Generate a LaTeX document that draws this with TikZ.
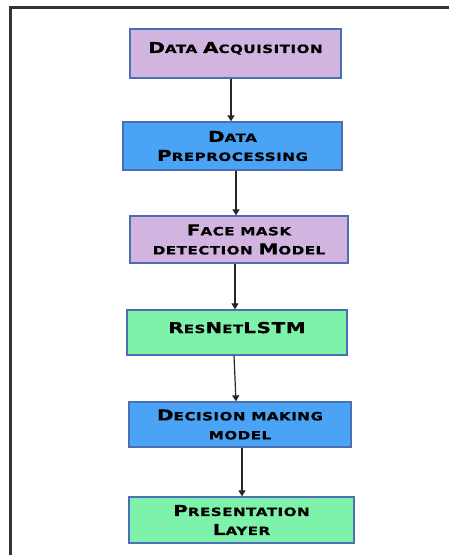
\documentclass[tikz,border=0pt]{standalone}
\usepackage{fontspec}
\usetikzlibrary{arrows.meta}
\newfontfamily\cpfont[FakeStretch=1.33,LetterSpace=4,FakeBold=0.6]{DejaVu Sans Bold}
\newcommand\BC[1]{{\fontsize{15}{19}\selectfont #1}}
\definecolor{lav}{HTML}{D2B4E0}
\definecolor{bluebox}{HTML}{4AA3F5}
\definecolor{greenbox}{HTML}{7EF1AA}
\definecolor{edge}{HTML}{4A6FB5}
\tikzset{
  box/.style={draw=edge, line width=1.3pt, rectangle, align=center, inner sep=0pt,
    font=\cpfont\fontsize{11.4}{19}\selectfont, text=black},
  arr/.style={draw=black!85, line width=1.2pt, -{Triangle[width=7pt,length=6pt]}},
  frame/.style={draw=black!80, line width=3pt}
}
\begin{document}
\begin{tikzpicture}[x=1pt,y=-1pt]
\useasboundingbox (0,0) rectangle (449,555);
\draw[frame] (10,555) -- (10,7.5) -- (449,7.5);
\node[box, fill=lav, minimum width=211pt, minimum height=49pt, text depth=12pt] (a) at (235.5,53.5) {\BC{D}ATA \BC{A}CQUISITION};
\node[box, fill=bluebox, minimum width=219pt, minimum height=48pt] (b) at (232.5,146) {\BC{D}ATA\\\BC{P}REPROCESSING};
\node[box, fill=lav, minimum width=218pt, minimum height=47pt] (c) at (239,239.5) {\BC{F}ACE MASK\\DETECTION \BC{M}ODEL};
\node[box, fill=greenbox, minimum width=220pt, minimum height=45pt, text depth=10pt] (d) at (237,332.5) {\BC{R}ES\BC{N}ET\BC{LSTM}};
\node[box, fill=bluebox, minimum width=222pt, minimum height=45pt] (e) at (240,424.5) {\BC{D}ECISION MAKING\\MODEL};
\node[box, fill=greenbox, minimum width=225pt, minimum height=46pt] (f) at (241.5,520) {\BC{P}RESENTATION\\\BC{L}AYER};
\draw[arr] ([xshift=-4.5pt]a.south) -- ([xshift=-1.5pt]b.north);
\draw[arr] ([xshift=3.5pt]b.south) -- ([xshift=-3pt]c.north);
\draw[arr] ([xshift=-4pt]c.south) -- ([xshift=-2pt]d.north);
\draw[arr] ([xshift=-3pt]d.south) -- ([xshift=-4pt]e.north);
\draw[arr] ([xshift=2pt]e.south) -- ([xshift=0.5pt]f.north);
\end{tikzpicture}
\end{document}
